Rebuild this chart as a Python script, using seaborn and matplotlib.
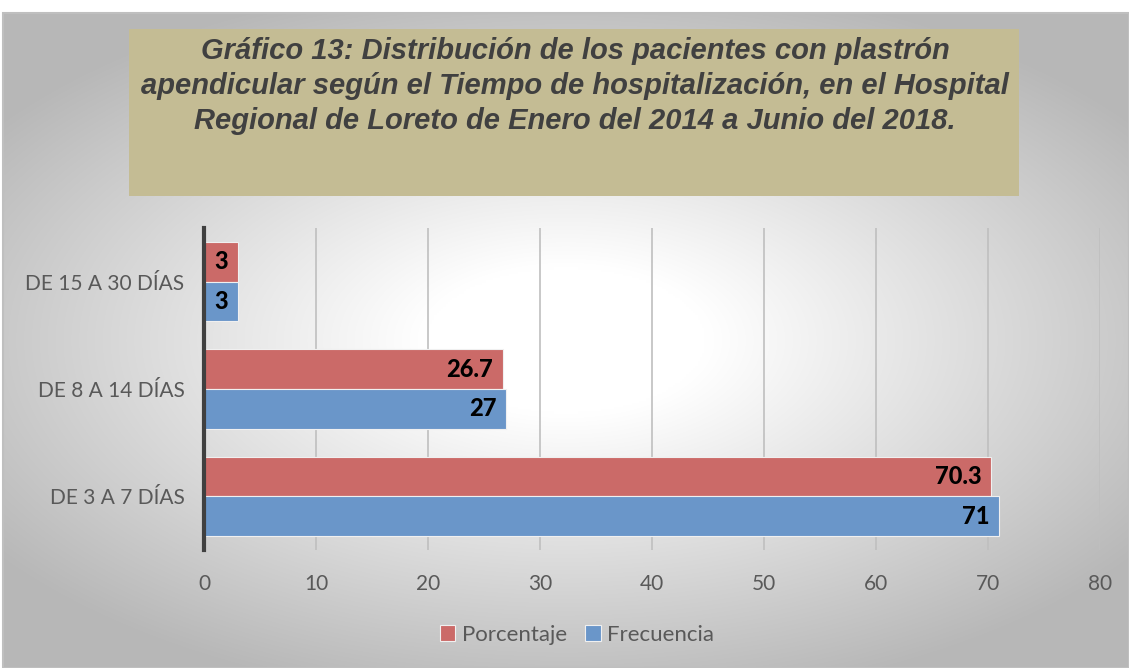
import numpy as np
import pandas as pd
import matplotlib
matplotlib.use("Agg")
import matplotlib.pyplot as plt
from matplotlib.patches import Rectangle
import seaborn as sns

categories = ["DE 15 A 30 DÍAS", "DE 8 A 14 DÍAS", "DE 3 A 7 DÍAS"]
porcentaje = [3, 26.7, 70.3]
frecuencia = [3, 27, 71]
series_names = ["Porcentaje", "Frecuencia"]
xticks = [0, 10, 20, 30, 40, 50, 60, 70, 80]
title = ("Gráfico 13: Distribución de los pacientes con plastrón\n"
         "apendicular según el Tiempo de hospitalización, en el Hospital\n"
         "Regional de Loreto de Enero del 2014 a Junio del 2018.")

df = pd.DataFrame({
    "cat": categories * 2,
    "serie": [series_names[0]] * 3 + [series_names[1]] * 3,
    "valor": porcentaje + frecuencia,
})

sns.set_theme(style="white")
plt.rcParams["font.family"] = ["Lato", "DejaVu Sans"]

W, H = 1129, 668
fig = plt.figure(figsize=(W / 100, H / 100), dpi=100)
fig.patch.set_facecolor("white")

# background radial gradient for chart area
bg = fig.add_axes([3 / W, 0, 1 - 3 / W, 1 - 13 / H], zorder=-10)
yy, xx = np.mgrid[-1:1:300j, -1:1:500j]
r = np.sqrt((xx / 1.0) ** 2 + (yy / 0.9) ** 2)
g = np.clip(1 - 0.28 * np.clip(r - 0.25, 0, None) / 1.0, 0.72, 1)
img = np.dstack([g, g, g])
bg.imshow(img, aspect="auto", extent=[0, 1, 0, 1], interpolation="bilinear")
bg.set_xlim(0, 1); bg.set_ylim(0, 1)
bg.axis("off")
fig.add_artist(Rectangle((3 / W, 0), 1 - 3 / W, 1 - 13 / H, transform=fig.transFigure,
                         fill=False, edgecolor="#BFBFBF", linewidth=1.5, zorder=-5))

# title box
fig.add_artist(Rectangle((129 / W, 1 - 196 / H), (1019 - 129) / W, (196 - 29) / H,
                         transform=fig.transFigure, facecolor="#C4BC94", edgecolor="none", zorder=1))
fig.text(575 / W, 1 - 86 / H, title, ha="center", va="center", fontsize=21,
         fontweight="bold", fontstyle="italic", color="#404040",
         family=["Liberation Sans", "DejaVu Sans"], linespacing=1.3, zorder=2)

ax = fig.add_axes([204 / W, 1 - 550 / H, (1100 - 204) / W, (550 - 228) / H])
ax.patch.set_alpha(0)
sns.barplot(data=df, y="cat", x="valor", hue="serie", order=categories,
            hue_order=series_names, palette=["#CB6A68", "#6A96C9"], orient="h",
            saturation=1, width=0.74, ax=ax, edgecolor="#F0F0F0", linewidth=0.8,
            zorder=3)

ax.set_xlim(0, 80)
ax.set_ylim(2.5, -0.5)
ax.set_xticks(xticks)
ax.set_xticklabels([str(t) for t in xticks])
ax.grid(axis="x", color="#BFBFBF", linewidth=1.2, zorder=0)
ax.set_axisbelow(True)
for s in ["top", "right", "bottom"]:
    ax.spines[s].set_visible(False)
ax.spines["left"].set_color("#404040")
ax.spines["left"].set_linewidth(3)
ax.spines["left"].set_zorder(5)
ax.tick_params(axis="both", length=0, labelsize=15, labelcolor="#595959")
ax.tick_params(axis="x", pad=17)
ax.tick_params(axis="y", pad=14)
ax.set_xlabel("")
ax.set_ylabel("")

for cont in ax.containers:
    labels = [("%g" % v) for v in cont.datavalues]
    for bar, lab in zip(cont, labels):
        x = bar.get_x() + bar.get_width()
        y = bar.get_y() + bar.get_height() / 2
        ax.annotate(lab, (x, y), xytext=(-7, 0), textcoords="offset points",
                    ha="right", va="center", fontsize=17, fontweight="black",
                    color="black", zorder=6)

leg = ax.legend(loc="center", bbox_to_anchor=(577 / W, 1 - 635 / H),
                bbox_transform=fig.transFigure, ncol=2, frameon=False,
                fontsize=16, handlelength=0.7, handleheight=0.7,
                handletextpad=0.3, columnspacing=0.8)
for t in leg.get_texts():
    t.set_color("#595959")

fig.savefig("out.png", dpi=100)
